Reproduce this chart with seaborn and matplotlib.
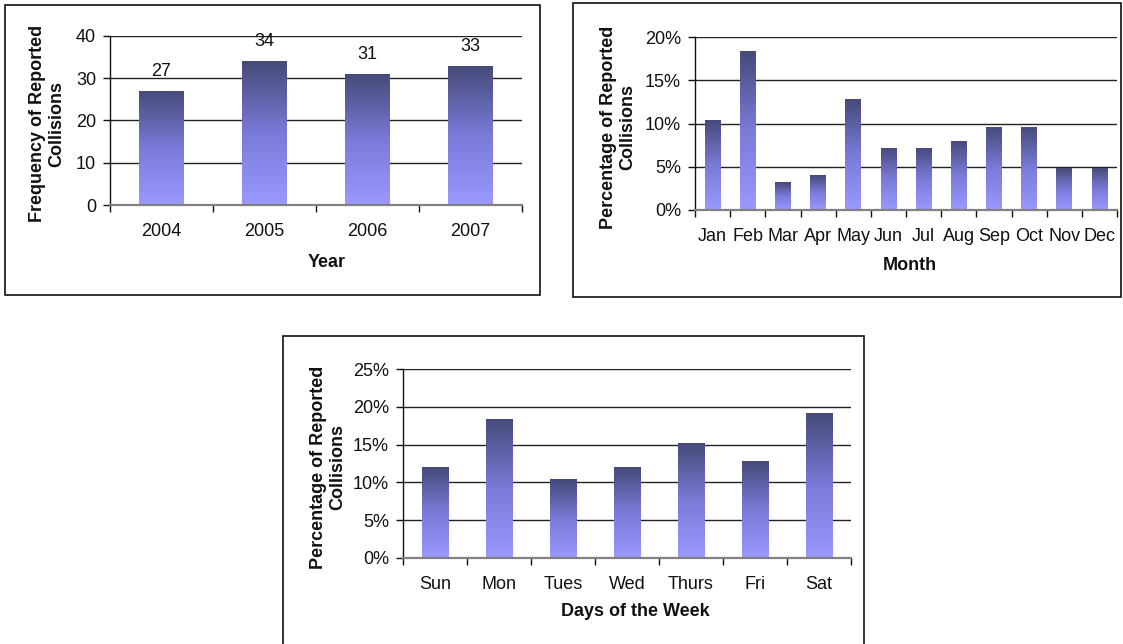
import numpy as np
import pandas as pd
import matplotlib
matplotlib.use("Agg")
import matplotlib.pyplot as plt
from matplotlib.patches import Rectangle
from matplotlib.colors import LinearSegmentedColormap
from matplotlib.ticker import FuncFormatter, FixedLocator, MultipleLocator
import seaborn as sns

# Collisions per year
years = ["2004", "2005", "2006", "2007"]
year_counts = [27, 34, 31, 33]

# Share of collisions per month (%)
months = ["Jan", "Feb", "Mar", "Apr", "May", "Jun",
          "Jul", "Aug", "Sep", "Oct", "Nov", "Dec"]
month_pct = [10.4, 18.4, 3.2, 4.0, 12.8, 7.2, 7.2, 8.0, 9.6, 9.6, 4.8, 4.8]

# Share of collisions per weekday (%)
days = ["Sun", "Mon", "Tues", "Wed", "Thurs", "Fri", "Sat"]
day_pct = [12.0, 18.4, 10.4, 12.0, 15.2, 12.8, 19.2]

sns.set_theme(style="white")
plt.rcParams["font.family"] = ["Liberation Sans", "DejaVu Sans"]

W, H = 1123, 644
fig = plt.figure(figsize=(W / 100, H / 100), dpi=100)
fig.patch.set_facecolor("white")


def px_axes(left, top, right, bottom):
    return fig.add_axes([left / W, 1 - bottom / H, (right - left) / W, (bottom - top) / H])


def frame(x0, y0, x1, y1):
    fig.add_artist(Rectangle((x0 / W, 1 - y1 / H), (x1 - x0) / W, (y1 - y0) / H,
                             transform=fig.transFigure, fill=False,
                             edgecolor="#111111", lw=1.2, clip_on=False))


bar_cmap = LinearSegmentedColormap.from_list("bar", ["#9999FF", "#7A7AD8", "#464A78"])
ramp = np.linspace(0, 1, 256).reshape(-1, 1)


def draw_panel(ax, cats, vals, ymax, ystep, width, ylabel, xlabel,
               pct, ylab_x, xlab_x, xlab_y, show_values=False):
    df = pd.DataFrame({"cat": cats, "val": vals})
    sns.barplot(data=df, x="cat", y="val", order=cats, ax=ax, width=width,
                color="#9999FF", saturation=1, edgecolor="none", zorder=2)
    for p in list(ax.patches):
        x0, y0 = p.get_x(), p.get_y()
        w, h = p.get_width(), p.get_height()
        im = ax.imshow(ramp, cmap=bar_cmap, origin="lower",
                       extent=[x0, x0 + w, y0, y0 + h], aspect="auto",
                       interpolation="bilinear", zorder=2)
        im.set_clip_path(p)
        p.set_facecolor("none")
    n = len(cats)
    ax.set_xlim(-0.5, n - 0.5)
    ax.set_ylim(0, ymax)
    ax.set_aspect("auto")

    ax.set_axisbelow(True)
    ax.yaxis.grid(True, color="#222222", lw=1.0)
    ax.xaxis.grid(False)
    ax.yaxis.set_major_locator(MultipleLocator(ystep))
    if pct:
        ax.yaxis.set_major_formatter(FuncFormatter(lambda v, _: f"{v:.0f}%"))
    ax.xaxis.set_minor_locator(FixedLocator(np.arange(-0.5, n, 1.0)))

    for s in ("top", "right"):
        ax.spines[s].set_visible(False)
    ax.spines["left"].set_color("#111111")
    ax.spines["left"].set_linewidth(1.0)
    ax.spines["bottom"].set_color("#808080")
    ax.spines["bottom"].set_linewidth(1.6)

    ax.tick_params(axis="y", which="major", left=True, direction="out",
                   length=5, width=1, color="#111111", pad=5,
                   labelsize=13, labelcolor="#111111")
    ax.tick_params(axis="x", which="major", bottom=True, length=0, pad=13,
                   labelsize=13, labelcolor="#111111")
    ax.tick_params(axis="x", which="minor", bottom=True, direction="out",
                   length=5, width=1, color="#111111")

    ax.set_ylabel(ylabel, fontsize=13, fontweight="bold", linespacing=1.15,
                  color="#111111")
    ax.yaxis.set_label_coords(ylab_x, 0.48)
    ax.set_xlabel(xlabel, fontsize=13, fontweight="bold", color="#111111",
                  va="top")
    ax.xaxis.set_label_coords(xlab_x, xlab_y)

    if show_values:
        for i, v in enumerate(vals):
            ax.annotate(str(v), (i, v), xytext=(0, 14), textcoords="offset points",
                        ha="center", va="center", fontsize=13, color="#111111")


# Panel frames
frame(5, 5, 540, 295)
frame(573, 3, 1121, 297)
frame(283, 336, 864, 660)

ax1 = px_axes(110, 36, 522, 205)
draw_panel(ax1, years, year_counts, 40, 10, 0.43,
           "Frequency of Reported\nCollisions", "Year", False,
           -0.109, 0.527, -0.29, show_values=True)

ax2 = px_axes(695, 37, 1117, 210)
draw_panel(ax2, months, month_pct, 20, 5, 0.45,
           "Percentage of Reported\nCollisions", "Month", True,
           -0.14, 0.51, -0.272)

ax3 = px_axes(403, 369, 851, 558)
draw_panel(ax3, days, day_pct, 25, 5, 0.41,
           "Percentage of Reported\nCollisions", "Days of the Week", True,
           -0.127, 0.518, -0.238)

fig.savefig("out.png", dpi=100, facecolor="white")
